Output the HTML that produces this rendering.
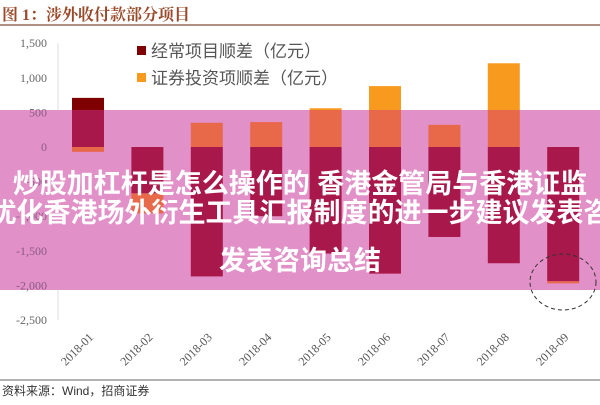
<!DOCTYPE html>
<html><head><meta charset="utf-8"><style>
body{margin:0;width:600px;height:400px;overflow:hidden;background:#fff;font-family:"Liberation Sans","Noto Sans CJK SC",sans-serif;}
</style></head><body>
<svg width="600" height="400" xmlns="http://www.w3.org/2000/svg">
<defs><clipPath id="band"><rect x="0" y="110" width="600" height="180"/></clipPath></defs>
<text x="2" y="20" font-size="16" font-weight="bold" fill="#9a4a2a" font-family="Liberation Serif,'Noto Serif CJK SC',serif">图 1：涉外收付款部分项目</text>
<line x1="0" y1="25" x2="600" y2="25" stroke="#9a6a5a" stroke-width="1.5"/>
<g id="axis"></g>
<g id="bars"></g>
<rect x="0" y="110" width="600" height="180" fill="#e290c8"/>
<g id="bars2" clip-path="url(#band)"></g>
<g id="ylabels2" clip-path="url(#band)"></g>
<rect x="137" y="46" width="9" height="9" fill="#7f0000"/>
<text x="151" y="57" font-size="17" fill="#555">经常项目顺差（亿元）</text>
<rect x="137" y="73" width="9" height="9" fill="#f79a1e"/>
<text x="151" y="84" font-size="17" fill="#555">证券投资项顺差（亿元）</text>
<ellipse cx="563" cy="282" rx="33" ry="28" fill="none" stroke="#333" stroke-dasharray="4,3"/>
<g font-size="27" font-weight="bold" fill="#fff" text-anchor="middle">
<text x="300" y="193">炒股加杠杆是怎么操作的 香港金管局与香港证监</text>
<text x="300" y="222">就优化香港场外衍生工具汇报制度的进一步建议发表咨询</text>
<text x="300" y="270">发表咨询总结</text>
</g>
<line x1="0" y1="380" x2="600" y2="380" stroke="#666"/>
<text x="2" y="395" font-size="12" fill="#333">资料来源：Wind，招商证券</text>
</svg>
<script>
const categories=["2018-01","2018-02","2018-03","2018-04","2018-05","2018-06","2018-07","2018-08","2018-09"];
const currentAccount=[710,-670,-1870,-1000,-1540,-1830,-1300,-1680,-1940];
const securities=[-70,-290,350,360,560,880,320,1210,-30];
const yTicks=[1500,1000,500,0,-500,-1000,-1500,-2000,-2500];
const tickLabels=["1,500","1,000","500","0","-500","-1,000","-1,500","-2,000","-2,500"];
const NS="http://www.w3.org/2000/svg";
const y=v=>147-v*(173/2500);
const x=i=>88+i*59.4;
const bw=32;
function mk(t,a,p){const e=document.createElementNS(NS,t);for(const k in a)e.setAttribute(k,a[k]);p.appendChild(e);return e;}
const axis=document.getElementById('axis');
mk('line',{x1:58,y1:y(1500),x2:58,y2:y(-2500),stroke:'#ddd'},axis);
mk('line',{x1:58,y1:y(0),x2:595,y2:y(0),stroke:'#ddd'},axis);
const yl2=document.getElementById('ylabels2');
yTicks.forEach((v,i)=>{
 const t=mk('text',{x:47,y:y(v)+4,'font-size':12,fill:'#666','text-anchor':'end','font-family':'Liberation Serif,serif'},axis);
 
 
 t.textContent=tickLabels[i];
 const t2=mk('text',{x:47,y:y(v)+4,'font-size':12,fill:'#8a5a80','text-anchor':'end','font-family':'Liberation Serif,serif'},yl2);
 t2.textContent=tickLabels[i];
});
categories.forEach((c,i)=>{
 const t=mk('text',{x:x(i)+6,y:338,'font-size':12,fill:'#555','text-anchor':'end','font-family':'Liberation Serif,serif',transform:`rotate(-45 ${x(i)+6} 338)`},axis);
 
 
 t.textContent=c;
});
function drawBars(g,cR,cO,named){
 categories.forEach((c,i)=>{
  let posBase=0,negBase=0;
  [[currentAccount[i],cR,'current'],[securities[i],cO,'securities']].forEach(([v,col,nm])=>{
   let y0,y1;
   if(v>=0){y0=y(posBase+v);y1=y(posBase);posBase+=v;}else{y0=y(negBase);y1=y(negBase+v);negBase+=v;}
   const r=mk('rect',{x:x(i)-bw/2,y:y0,width:bw,height:Math.max(0,y1-y0),fill:col},g);
   if(named){
    
    
   }
  });
 });
}
drawBars(document.getElementById('bars'),'#7f0000','#f79a1e',true);
drawBars(document.getElementById('bars2'),'#a8184a','#e8684a',false);
</script>
</body></html>
